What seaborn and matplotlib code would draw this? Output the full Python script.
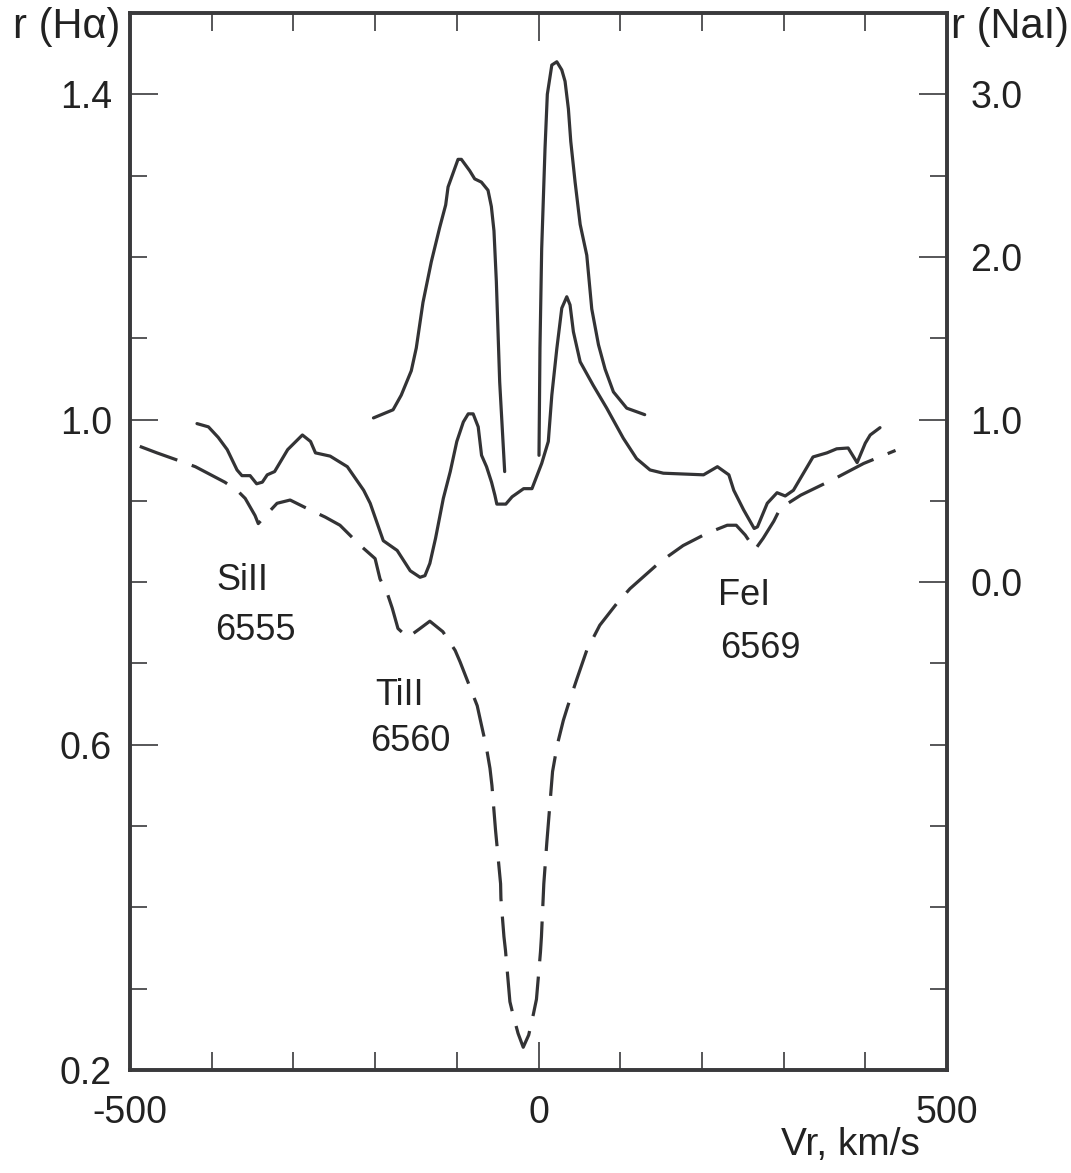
import numpy as np
import pandas as pd
import matplotlib
matplotlib.use("Agg")
import matplotlib.pyplot as plt
import seaborn as sns
from matplotlib.ticker import FixedLocator, FixedFormatter

# ---------------- data ----------------
# H-alpha observed profile (solid, left axis)
ha_v = [-418, -404, -392, -381, -369, -363, -353, -345, -338, -332, -323, -307, -289,
        -279, -273, -255, -234, -214, -206, -190, -173, -157, -145, -139, -133, -126,
        -116.5, -108, -100, -92, -86, -80, -73.8, -69.7, -63.6, -57.5, -53.4, -51, -40,
        -32.3, -18.2, -8, 3.9, 12, 16.3, 22.4, 28.5, 34.6, 38.6, 42.7, 51, 67, 83.5,
        103.8, 120, 136.5, 152.8, 202, 219, 233, 239, 251, 264, 268, 280, 292, 302, 312,
        336, 353, 365, 379, 390, 400, 406, 418]
ha_r = [0.995, 0.991, 0.978, 0.963, 0.938, 0.931, 0.931, 0.921, 0.923, 0.932, 0.936, 0.963, 0.981,
        0.973, 0.959, 0.955, 0.942, 0.913, 0.897, 0.851, 0.839, 0.814, 0.806, 0.808, 0.823, 0.854,
        0.903, 0.936, 0.973, 0.997, 1.007, 1.007, 0.991, 0.956, 0.942, 0.923, 0.907, 0.896, 0.896,
        0.905, 0.915, 0.915, 0.946, 0.973, 1.030, 1.087, 1.137, 1.151, 1.141, 1.108, 1.071, 1.042, 1.014,
        0.977, 0.952, 0.938, 0.934, 0.932, 0.942, 0.932, 0.913, 0.889, 0.866, 0.868, 0.897, 0.910, 0.906, 0.913,
        0.954, 0.959, 0.964, 0.965, 0.947, 0.971, 0.981, 0.990]

# model / photospheric profile (dashed, left axis)
mod_v = [-488, -467, -439, -420, -384, -369, -359, -347, -343, -334, -320, -304, -280, -261,
         -243, -218, -200, -194, -185, -179, -172, -160, -145, -133, -117, -102, -96, -75,
         -70, -64, -59.4, -57, -52.6, -51, -46.4, -46, -42.3, -40.4, -35, -31.4, -25, -18.7,
         -12, -6.2, -2.5, 2.4, 3.6, 6.5, 10.2, 17.2, 23, 30.4, 36, 47, 59, 75, 96, 112, 149,
         177, 206, 231, 242, 253, 265, 275, 288, 296, 321, 362, 398, 437]
mod_r = [0.967, 0.959, 0.949, 0.942, 0.923, 0.913, 0.903, 0.882, 0.872, 0.882, 0.897, 0.901, 0.889, 0.880,
         0.870, 0.845, 0.829, 0.804, 0.786, 0.768, 0.743, 0.732, 0.743, 0.752, 0.739, 0.716, 0.702, 0.648,
         0.625, 0.598, 0.571, 0.550, 0.495, 0.478, 0.429, 0.411, 0.364, 0.347, 0.284, 0.269, 0.245, 0.228,
         0.243, 0.269, 0.287, 0.345, 0.364, 0.429, 0.480, 0.567, 0.600, 0.630, 0.648, 0.681, 0.716, 0.747,
         0.774, 0.792, 0.825, 0.845, 0.860, 0.870, 0.870, 0.858, 0.840, 0.854, 0.875, 0.891, 0.907, 0.927,
         0.946, 0.962]

# NaI profile (solid, right axis), two pieces
na1_v = [-202, -178, -168, -155.7, -149.6, -141.4, -131.2, -121, -113.6, -110.7, -98.5, -94.4,
         -84.2, -78.1, -69.9, -61.8, -57.7, -54.5, -51.6, -47.5, -41.4]
na1_r = [1.01, 1.06, 1.15, 1.30, 1.44, 1.72, 1.97, 2.18, 2.32, 2.43, 2.60, 2.60,
         2.53, 2.48, 2.46, 2.41, 2.31, 2.16, 1.85, 1.23, 0.68]
na2_v = [0.6, 1.8, 3.9, 8, 10.8, 16.3, 22.4, 28.5, 32.5, 36.6, 39.5, 44.8, 51, 59.1, 65.2,
         73.4, 81.5, 91.7, 108, 130]
na2_r = [0.78, 1.44, 2.05, 2.67, 3.00, 3.18, 3.20, 3.15, 3.08, 2.91, 2.71, 2.46, 2.20, 2.01, 1.68,
         1.46, 1.31, 1.17, 1.07, 1.03]

x_major = [-500, 0, 500]
x_labels = ["-500", "0", "500"]
x_minor = [-400, -300, -200, -100, 100, 200, 300, 400]
yl_major = [0.2, 0.6, 1.0, 1.4]
yl_labels = ["0.2", "0.6", "1.0", "1.4"]
yl_minor = [0.3, 0.4, 0.5, 0.7, 0.8, 0.9, 1.1, 1.2, 1.3]
yr_major = [0.0, 1.0, 2.0, 3.0]
yr_labels = ["0.0", "1.0", "2.0", "3.0"]
yr_minor = [-2.5, -2.0, -1.5, -1.0, -0.5, 0.5, 1.5, 2.5]

annotations = [("SiII", -362, 0.802), ("6555", -346, 0.740),
               ("TiII", -170, 0.660), ("6560", -157, 0.604),
               ("FeI", 252, 0.783), ("6569", 271, 0.718)]

# ---------------- style ----------------
sns.set_style("white")
plt.rcParams["font.family"] = ["Liberation Sans", "DejaVu Sans"]
FS_TICK = 27
FS_ANN = 26
FS_HEAD = 30
FS_XLAB = 28
COL = "#333335"
TXT = "#222222"
SPC = "#3a3a3c"

fig = plt.figure(figsize=(10.71, 11.73), dpi=100)
ax = fig.add_axes([130 / 1071, 1 - 1070 / 1173, 817 / 1071, (1070 - 13) / 1173])
ax2 = ax.twinx()

df_ha = pd.DataFrame({"v": ha_v, "r": ha_r})
df_mod = pd.DataFrame({"v": mod_v, "r": mod_r})
df_na = pd.DataFrame({"v": na1_v + na2_v, "r": na1_r + na2_r,
                      "seg": [1] * len(na1_v) + [2] * len(na2_v)})

sns.lineplot(data=df_ha, x="v", y="r", ax=ax, color=COL, lw=2.3, sort=False,
             estimator=None)
sns.lineplot(data=df_mod, x="v", y="r", ax=ax, color=COL, lw=2.3, sort=False,
             estimator=None, linestyle=(0, (12.5, 4.8)))
sns.lineplot(data=df_na, x="v", y="r", units="seg", ax=ax2, color=COL, lw=2.3,
             sort=False, estimator=None)

ax.set_xlim(-500, 500)
ax.set_ylim(0.2, 1.5)
ax2.set_ylim(-3.0, 3.5)
for a in (ax, ax2):
    a.set_xlabel("")
    a.set_ylabel("")
    for s in a.spines.values():
        s.set_linewidth(2.6)
        s.set_color(SPC)

ax.xaxis.set_major_locator(FixedLocator(x_major))
ax.xaxis.set_major_formatter(FixedFormatter(x_labels))
ax.xaxis.set_minor_locator(FixedLocator(x_minor))
ax.yaxis.set_major_locator(FixedLocator(yl_major))
ax.yaxis.set_major_formatter(FixedFormatter(yl_labels))
ax.yaxis.set_minor_locator(FixedLocator(yl_minor))
ax2.yaxis.set_major_locator(FixedLocator(yr_major))
ax2.yaxis.set_major_formatter(FixedFormatter(yr_labels))
ax2.yaxis.set_minor_locator(FixedLocator(yr_minor))

ax.tick_params(axis="x", which="both", direction="in", top=True, bottom=True,
               color=SPC, width=1.2, labelsize=FS_TICK, labelcolor=TXT, pad=18)
ax.tick_params(axis="x", which="major", length=20)
ax.tick_params(axis="x", which="minor", length=13)
ax.tick_params(axis="y", which="both", direction="in", left=True, right=False,
               color=SPC, width=1.2, labelsize=FS_TICK, labelcolor=TXT, pad=13)
ax.tick_params(axis="y", which="major", length=20)
ax.tick_params(axis="y", which="minor", length=12.5)
ax2.tick_params(axis="y", which="both", direction="in", right=True, left=False,
                color=SPC, width=1.2, labelsize=FS_TICK, labelcolor=TXT, pad=17)
ax2.tick_params(axis="y", which="major", length=20)
ax2.tick_params(axis="y", which="minor", length=12.5)

for txt, xv, yv in annotations:
    ax.text(xv, yv, txt, fontsize=FS_ANN, color=TXT, ha="center", va="center")

fig.text(67 / 1071, 1 - 27 / 1173, "r (H\u03b1)", fontsize=FS_HEAD, color=TXT,
         ha="center", va="center")
fig.text(1010 / 1071, 1 - 27 / 1173, "r (NaI)", fontsize=FS_HEAD, color=TXT,
         ha="center", va="center")
fig.text(850 / 1071, 1 - 1145 / 1173, "Vr, km/s", fontsize=FS_XLAB, color=TXT,
         ha="center", va="center")

fig.savefig("out.png", dpi=100, facecolor="white")
